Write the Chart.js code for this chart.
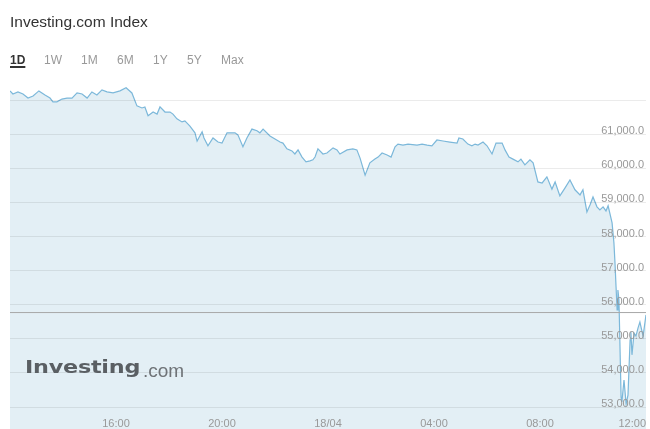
<!DOCTYPE html>
<html>
<head>
<meta charset="utf-8">
<script src="https://cdn.jsdelivr.net/npm/chart.js@4.4.0/dist/chart.umd.min.js"></script>
<style>
  body { margin: 0; background: #fff; font-family: "Liberation Sans", Arial, sans-serif; }
  #wrap { position: relative; width: 650px; height: 429px; overflow: hidden; }
  #wrap canvas { position: absolute; left: 0; top: 0; }
  .title { position: absolute; left: 10px; top: 14px; font-size: 15.5px; line-height: 16px; color: #333; }
  .range { position: absolute; top: 54px; font-size: 12px; line-height: 12px; color: #999; }
  .range.on { color: #333; font-weight: bold; text-decoration: underline; text-decoration-thickness: 1.5px; text-underline-offset: 2px; }
  .logo { position: absolute; left: 25px; top: 358px; white-space: nowrap; }
  .logo b { display: inline-block; font-family: "DejaVu Sans", sans-serif; font-weight: bold; font-size: 18px; line-height: 18px;
            color: #5a5f63; transform: scaleX(1.24); transform-origin: left center; letter-spacing: -0.2px; }
  .logo span { position: absolute; left: 118px; top: 3px; font-size: 19px; line-height: 19px; color: #6f7377; }
</style>
</head>
<body>
<div id="wrap">
  <canvas id="chart" width="650" height="429"></canvas>
  <div class="title">Investing.com Index</div>
  <div class="range on" style="left:10px">1D</div>
  <div class="range" style="left:44px">1W</div>
  <div class="range" style="left:81px">1M</div>
  <div class="range" style="left:117px">6M</div>
  <div class="range" style="left:153px">1Y</div>
  <div class="range" style="left:187px">5Y</div>
  <div class="range" style="left:221px">Max</div>
  <div class="logo"><b>Investing</b><span>.com</span></div>
</div>
<script>
// hours since 12:00 on 17/04
const hours = [0, 0.11, 0.30, 0.49, 0.68, 0.87, 1.09, 1.32, 1.51, 1.62, 1.77, 1.96, 2.15, 2.34, 2.53, 2.72, 2.91,
  3.09, 3.28, 3.47, 3.66, 3.89, 4.15, 4.38, 4.60, 4.79, 4.98, 5.09, 5.21, 5.40, 5.55, 5.66, 5.85, 6.04, 6.15,
  6.30, 6.49, 6.60, 6.79, 6.98, 7.06, 7.25, 7.32, 7.47, 7.66, 7.85, 8.00, 8.19, 8.38, 8.49, 8.60, 8.79, 8.94,
  9.13, 9.32, 9.43, 9.55, 9.81, 10.00, 10.19, 10.30, 10.45, 10.64, 10.75, 10.87, 11.02, 11.17, 11.32, 11.43,
  11.51, 11.62, 11.81, 11.96, 12.19, 12.34, 12.45, 12.72, 12.94, 13.09, 13.21, 13.40, 13.58, 13.77, 13.89,
  14.04, 14.23, 14.38, 14.53, 14.64, 14.83, 15.02, 15.36, 15.55, 15.74, 15.92, 16.11, 16.34, 16.60, 16.87,
  16.94, 17.09, 17.28, 17.43, 17.55, 17.66, 17.85, 18.00, 18.19, 18.34, 18.57, 18.68, 18.83, 18.98, 19.17,
  19.28, 19.43, 19.62, 19.74, 19.92, 20.08, 20.26, 20.45, 20.57, 20.75, 20.94, 21.13, 21.32, 21.51, 21.62,
  21.77, 21.89, 22.00, 22.15, 22.26, 22.38, 22.49, 22.57, 22.72, 22.79, 22.83, 22.87, 22.91, 22.94, 22.98,
  23.06, 23.09, 23.17, 23.25, 23.32, 23.40, 23.43, 23.47, 23.55, 23.62, 23.70, 23.77, 23.89, 24.00];

const prices = [62270, 62180, 62240, 62180, 62060, 62120, 62270, 62150, 62060, 61950, 61950, 62030, 62060,
  62060, 62210, 62180, 62060, 62240, 62150, 62300, 62240, 62210, 62270, 62360, 62210, 61830, 61770, 61800,
  61540, 61650, 61590, 61800, 61650, 61650, 61590, 61450, 61360, 61390, 61240, 61040, 60800, 61070, 60890,
  60660, 60890, 60770, 60740, 61040, 61040, 61040, 60980, 60630, 60890, 61150, 61100, 61040, 61150, 60950,
  60860, 60770, 60740, 60570, 60510, 60420, 60540, 60330, 60190, 60220, 60250, 60330, 60570, 60420, 60450,
  60600, 60540, 60420, 60540, 60570, 60540, 60300, 59800, 60160, 60270, 60330, 60450, 60390, 60330, 60630,
  60710, 60680, 60710, 60680, 60710, 60680, 60660, 60830, 60800, 60770, 60740, 60890, 60860, 60710, 60660,
  60710, 60680, 60770, 60660, 60420, 60740, 60740, 60540, 60330, 60270, 60190, 60270, 60100, 60250, 60160,
  59600, 59570, 59750, 59390, 59600, 59190, 59420, 59660, 59370, 59220, 59370, 58720, 58930, 59160, 58870,
  58780, 58870, 58750, 58900, 58400, 57810, 57220, 56520, 55850, 56430, 56140, 53290, 53150, 53790, 53090,
  53350, 54970, 55200, 54530, 55170, 55080, 55320, 55490, 55080, 55700];

const prevClose = 55770;
const xTicks = [4, 8, 12, 16, 20, 24];
const xTickLabels = ["16:00", "20:00", "18/04", "04:00", "08:00", "12:00"];
const yTicks = [53000, 54000, 55000, 56000, 57000, 58000, 59000, 60000, 61000, 62000];
const yMin = 52355, yMax = 62443;

const ctx = document.getElementById("chart").getContext("2d");
const tickFont = { family: "'Liberation Sans', Arial, sans-serif", size: 11 };

const config = {
  type: "line",
  data: {
    datasets: [
      {
        label: "Investing.com Index",
        data: hours.map((h, i) => ({ x: h, y: prices[i] })),
        borderColor: "#7cb8da",
        borderWidth: 1.2,
        backgroundColor: "#e3eff5",
        fill: "start",
        pointRadius: 0,
        tension: 0,
        order: 2,
      },
      {
        label: "Prev close",
        data: [{ x: 0, y: prevClose }, { x: 24, y: prevClose }],
        borderColor: "#a8a8a8",
        borderWidth: 1,
        fill: false,
        pointRadius: 0,
        order: 1,
      },
    ],
  },
  options: {
    responsive: false,
    animation: false,
    layout: { padding: { left: 10, right: 4, top: 85, bottom: 0 } },
    plugins: { legend: { display: false }, tooltip: { enabled: false } },
    scales: {
      x: {
        type: "linear",
        min: 0,
        max: 24,
        grid: { display: false },
        border: { display: false },
        afterBuildTicks: (scale) => {
          scale.ticks = [{ value: 0 }].concat(xTicks.map((v) => ({ value: v })));
        },
        afterFit: (scale) => {
          scale.height = 0;
          scale.paddingLeft = 0;
          scale.paddingRight = 0;
        },
        ticks: {
          autoSkip: false,
          maxRotation: 0,
          align: "inner",
          mirror: true,
          padding: -2,
          z: 1,
          color: "#999",
          font: tickFont,
          callback: (v) => {
            const i = xTicks.indexOf(v);
            return i < 0 ? "" : xTickLabels[i];
          },
        },
      },
      y: {
        position: "right",
        min: yMin,
        max: yMax,
        afterBuildTicks: (scale) => {
          scale.ticks = yTicks.map((v) => ({ value: v }));
        },
        afterFit: (scale) => {
          scale.width = 0;
          scale.paddingTop = 0;
          scale.paddingBottom = 0;
        },
        grid: { color: "rgba(0,0,0,0.08)", drawTicks: false, z: 1 },
        border: { display: false },
        ticks: {
          mirror: true,
          padding: -2,
          labelOffset: -3,
          z: 1,
          color: "#999",
          font: tickFont,
          callback: (v) => (v === 62000 ? "" : v.toLocaleString("en-US", { minimumFractionDigits: 1 })),
        },
      },
    },
  },
};
let myChart = new Chart(ctx, config);
</script>
</body>
</html>
